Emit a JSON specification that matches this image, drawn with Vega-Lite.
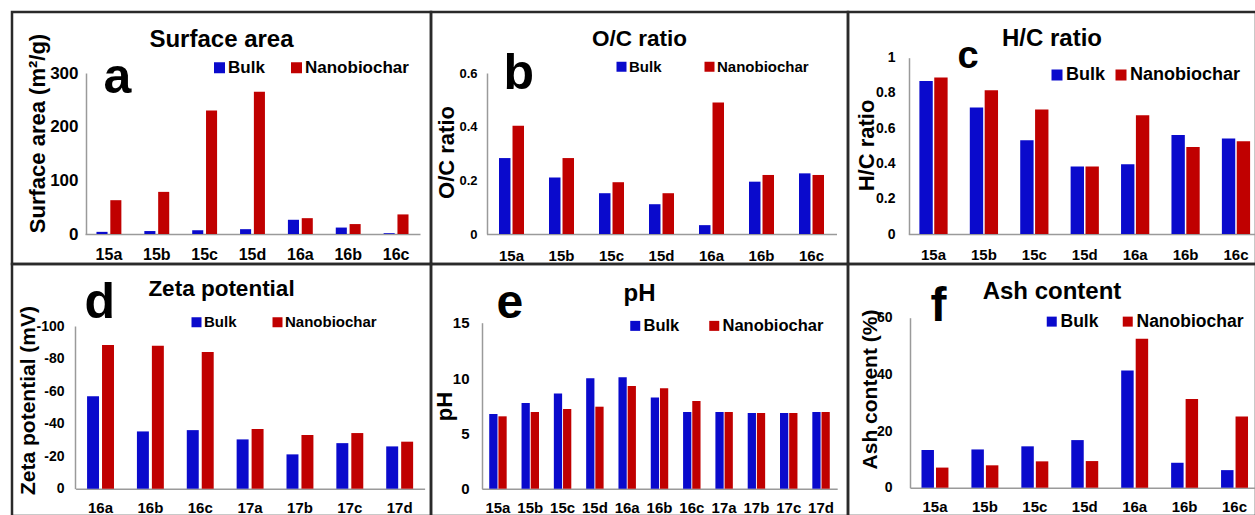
{
  "$schema": "https://vega.github.io/schema/vega-lite/v6.json",
  "background": "white",
  "padding": {"left": 10, "top": 10, "right": 0, "bottom": 0},
  "columns": 3,
  "spacing": 0,
  "bounds": "flush",
  "resolve": {"scale": {"color": "independent", "x": "independent", "y": "independent", "xOffset": "independent"}, "legend": {"color": "independent"}},
  "datasets": {
    "sa": [
      {"s": "15a", "t": "Bulk", "v": 4}, {"s": "15a", "t": "Nanobiochar", "v": 63},
      {"s": "15b", "t": "Bulk", "v": 5.5}, {"s": "15b", "t": "Nanobiochar", "v": 78.5},
      {"s": "15c", "t": "Bulk", "v": 7}, {"s": "15c", "t": "Nanobiochar", "v": 230},
      {"s": "15d", "t": "Bulk", "v": 9}, {"s": "15d", "t": "Nanobiochar", "v": 265},
      {"s": "16a", "t": "Bulk", "v": 26.5}, {"s": "16a", "t": "Nanobiochar", "v": 29.5},
      {"s": "16b", "t": "Bulk", "v": 12}, {"s": "16b", "t": "Nanobiochar", "v": 18.5},
      {"s": "16c", "t": "Bulk", "v": 1.5}, {"s": "16c", "t": "Nanobiochar", "v": 36.5}
    ],
    "oc": [
      {"s": "15a", "t": "Bulk", "v": 0.283}, {"s": "15a", "t": "Nanobiochar", "v": 0.403},
      {"s": "15b", "t": "Bulk", "v": 0.211}, {"s": "15b", "t": "Nanobiochar", "v": 0.283},
      {"s": "15c", "t": "Bulk", "v": 0.152}, {"s": "15c", "t": "Nanobiochar", "v": 0.193},
      {"s": "15d", "t": "Bulk", "v": 0.111}, {"s": "15d", "t": "Nanobiochar", "v": 0.152},
      {"s": "16a", "t": "Bulk", "v": 0.033}, {"s": "16a", "t": "Nanobiochar", "v": 0.49},
      {"s": "16b", "t": "Bulk", "v": 0.195}, {"s": "16b", "t": "Nanobiochar", "v": 0.22},
      {"s": "16c", "t": "Bulk", "v": 0.226}, {"s": "16c", "t": "Nanobiochar", "v": 0.22}
    ],
    "hc": [
      {"s": "15a", "t": "Bulk", "v": 0.868}, {"s": "15a", "t": "Nanobiochar", "v": 0.887},
      {"s": "15b", "t": "Bulk", "v": 0.717}, {"s": "15b", "t": "Nanobiochar", "v": 0.815},
      {"s": "15c", "t": "Bulk", "v": 0.532}, {"s": "15c", "t": "Nanobiochar", "v": 0.706},
      {"s": "15d", "t": "Bulk", "v": 0.383}, {"s": "15d", "t": "Nanobiochar", "v": 0.383},
      {"s": "16a", "t": "Bulk", "v": 0.396}, {"s": "16a", "t": "Nanobiochar", "v": 0.674},
      {"s": "16b", "t": "Bulk", "v": 0.562}, {"s": "16b", "t": "Nanobiochar", "v": 0.494},
      {"s": "16c", "t": "Bulk", "v": 0.542}, {"s": "16c", "t": "Nanobiochar", "v": 0.526}
    ],
    "zp": [
      {"s": "16a", "t": "Bulk", "v": -56.8}, {"s": "16a", "t": "Nanobiochar", "v": -88.3},
      {"s": "16b", "t": "Bulk", "v": -35.2}, {"s": "16b", "t": "Nanobiochar", "v": -87.9},
      {"s": "16c", "t": "Bulk", "v": -36}, {"s": "16c", "t": "Nanobiochar", "v": -84},
      {"s": "17a", "t": "Bulk", "v": -30.3}, {"s": "17a", "t": "Nanobiochar", "v": -36.7},
      {"s": "17b", "t": "Bulk", "v": -21.1}, {"s": "17b", "t": "Nanobiochar", "v": -33},
      {"s": "17c", "t": "Bulk", "v": -28}, {"s": "17c", "t": "Nanobiochar", "v": -34.2},
      {"s": "17d", "t": "Bulk", "v": -26}, {"s": "17d", "t": "Nanobiochar", "v": -28.9}
    ],
    "ph": [
      {"s": "15a", "t": "Bulk", "v": 6.75}, {"s": "15a", "t": "Nanobiochar", "v": 6.54},
      {"s": "15b", "t": "Bulk", "v": 7.74}, {"s": "15b", "t": "Nanobiochar", "v": 6.93},
      {"s": "15c", "t": "Bulk", "v": 8.61}, {"s": "15c", "t": "Nanobiochar", "v": 7.2},
      {"s": "15d", "t": "Bulk", "v": 9.97}, {"s": "15d", "t": "Nanobiochar", "v": 7.41},
      {"s": "16a", "t": "Bulk", "v": 10.06}, {"s": "16a", "t": "Nanobiochar", "v": 9.28},
      {"s": "16b", "t": "Bulk", "v": 8.25}, {"s": "16b", "t": "Nanobiochar", "v": 9.07},
      {"s": "16c", "t": "Bulk", "v": 6.93}, {"s": "16c", "t": "Nanobiochar", "v": 7.92},
      {"s": "17a", "t": "Bulk", "v": 6.93}, {"s": "17a", "t": "Nanobiochar", "v": 6.93},
      {"s": "17b", "t": "Bulk", "v": 6.84}, {"s": "17b", "t": "Nanobiochar", "v": 6.84},
      {"s": "17c", "t": "Bulk", "v": 6.84}, {"s": "17c", "t": "Nanobiochar", "v": 6.84},
      {"s": "17d", "t": "Bulk", "v": 6.93}, {"s": "17d", "t": "Nanobiochar", "v": 6.93}
    ],
    "ash": [
      {"s": "15a", "t": "Bulk", "v": 13.3}, {"s": "15a", "t": "Nanobiochar", "v": 7.1},
      {"s": "15b", "t": "Bulk", "v": 13.5}, {"s": "15b", "t": "Nanobiochar", "v": 7.9},
      {"s": "15c", "t": "Bulk", "v": 14.6}, {"s": "15c", "t": "Nanobiochar", "v": 9.3},
      {"s": "15d", "t": "Bulk", "v": 16.8}, {"s": "15d", "t": "Nanobiochar", "v": 9.4},
      {"s": "16a", "t": "Bulk", "v": 41.4}, {"s": "16a", "t": "Nanobiochar", "v": 52.6},
      {"s": "16b", "t": "Bulk", "v": 8.8}, {"s": "16b", "t": "Nanobiochar", "v": 31.3},
      {"s": "16c", "t": "Bulk", "v": 6.2}, {"s": "16c", "t": "Nanobiochar", "v": 25.1}
    ]
  },
  "concat": [
    {
      "width": 419, "height": 252,
      "data": {"name": "sa"},
      "title": {"text": "Surface area", "fontSize": 24, "offset": -39.8},
      "mark": {"type": "bar"},
      "encoding": {
        "x": {"field": "s", "type": "nominal", "scale": {"domain": ["15a","15b","15c","15d","16a","16b","16c"], "range": [73, 408], "paddingInner": 0.48, "paddingOuter": 0.24},
              "axis": {"offset": -30, "labelFontSize": 16, "labelPadding": 25, "title": "a", "titleX": 91, "titleY": -142, "titleFontSize": 50}},
        "xOffset": {"field": "t", "type": "nominal", "scale": {"paddingInner": 0.2}},
        "y": {"field": "v", "type": "quantitative", "scale": {"domain": [0, 300], "range": [222, 61], "nice": false},
              "axis": {"offset": -74, "values": [0, 100, 200, 300], "labelFontSize": 17, "labelPadding": 8, "title": "Surface area (m²/g)", "titleX": -42, "titleY": 121, "titleFontSize": 22}},
        "color": {"field": "t", "type": "nominal", "scale": {"domain": ["Bulk", "Nanobiochar"], "range": ["#0a0acc", "#c00000"]},
                  "legend": {"legendX": 199, "legendY": 47, "symbolSize": 121, "labelFontSize": 17, "columnPadding": 23}}
      }
    },
    {
      "width": 417, "height": 252,
      "data": {"name": "oc"},
      "title": {"text": "O/C ratio", "fontSize": 22.5, "offset": -38.5},
      "mark": {"type": "bar"},
      "encoding": {
        "x": {"field": "s", "type": "nominal", "scale": {"domain": ["15a","15b","15c","15d","16a","16b","16c"], "range": [55.5, 405.5], "paddingInner": 0.5, "paddingOuter": 0.25},
              "axis": {"offset": -30, "labelFontSize": 15, "labelPadding": 26, "title": "b", "titleX": 72, "titleY": -146, "titleFontSize": 50}},
        "xOffset": {"field": "t", "type": "nominal", "scale": {"paddingInner": 0.15}},
        "y": {"field": "v", "type": "quantitative", "scale": {"domain": [0, 0.6], "range": [222, 61], "nice": false},
              "axis": {"offset": -56, "values": [0, 0.2, 0.4, 0.6], "format": "~g", "labelFontSize": 13, "labelPadding": 10, "title": "O/C ratio", "titleX": -34, "titleY": 140, "titleFontSize": 22}},
        "color": {"field": "t", "type": "nominal", "scale": {"domain": ["Bulk", "Nanobiochar"], "range": ["#0a0acc", "#c00000"]},
                  "legend": {"legendX": 183, "legendY": 47, "symbolSize": 100, "labelFontSize": 15, "columnPadding": 40}}
      }
    },
    {
      "width": 408, "height": 252,
      "data": {"name": "hc"},
      "title": {"text": "H/C ratio", "fontSize": 24, "offset": -38.8},
      "mark": {"type": "bar"},
      "encoding": {
        "x": {"field": "s", "type": "nominal", "scale": {"domain": ["15a","15b","15c","15d","16a","16b","16c"], "range": [60.3, 413.2], "paddingInner": 0.44, "paddingOuter": 0.22},
              "axis": {"offset": -30, "labelFontSize": 15, "labelPadding": 25, "title": "c", "titleX": 109, "titleY": -167, "titleFontSize": 38}},
        "xOffset": {"field": "t", "type": "nominal", "scale": {"paddingInner": 0.1}},
        "y": {"field": "v", "type": "quantitative", "scale": {"domain": [0, 1], "range": [222, 45.7], "nice": false},
              "axis": {"offset": -61, "values": [0, 0.2, 0.4, 0.6, 0.8, 1], "format": "~g", "labelFontSize": 14, "labelPadding": 14, "title": "H/C ratio", "titleX": -36, "titleY": 133, "titleFontSize": 22}},
        "color": {"field": "t", "type": "nominal", "scale": {"domain": ["Bulk", "Nanobiochar"], "range": ["#0a0acc", "#c00000"]},
                  "legend": {"legendX": 200, "legendY": 54, "symbolSize": 121, "labelFontSize": 18, "columnPadding": 6}}
      }
    },
    {
      "width": 419, "height": 252,
      "data": {"name": "zp"},
      "title": {"text": "Zeta potential", "fontSize": 22.5, "offset": -36.5},
      "mark": {"type": "bar"},
      "encoding": {
        "x": {"field": "s", "type": "nominal", "scale": {"domain": ["16a","16b","16c","17a","17b","17c","17d"], "range": [63.6, 412.6], "paddingInner": 0.46, "paddingOuter": 0.23},
              "axis": {"offset": -27.3, "labelFontSize": 15, "labelPadding": 24, "title": "d", "titleX": 72, "titleY": -171, "titleFontSize": 50}},
        "xOffset": {"field": "t", "type": "nominal", "scale": {"paddingInner": 0.2}},
        "y": {"field": "v", "type": "quantitative", "scale": {"domain": [-100, 0], "range": [62, 224.7], "nice": false},
              "axis": {"offset": -63, "values": [0, -20, -40, -60, -80, -100], "labelExpr": "datum.value == 0 ? '0' : '-' + abs(datum.value)", "labelFontSize": 14, "labelPadding": 11, "title": "Zeta potential (mV)", "titleX": -41, "titleY": 136, "titleFontSize": 21}},
        "color": {"field": "t", "type": "nominal", "scale": {"domain": ["Bulk", "Nanobiochar"], "range": ["#0a0acc", "#c00000"]},
                  "legend": {"legendX": 177, "legendY": 50.5, "symbolSize": 100, "labelFontSize": 15, "columnPadding": 33}}
      }
    },
    {
      "width": 417, "height": 252,
      "data": {"name": "ph"},
      "title": {"text": "pH", "fontSize": 24, "offset": -41.8},
      "mark": {"type": "bar"},
      "encoding": {
        "x": {"field": "s", "type": "nominal", "scale": {"domain": ["15a","15b","15c","15d","16a","16b","16c","17a","17b","17c","17d"], "range": [50.8, 406.2], "paddingInner": 0.46, "paddingOuter": 0.23},
              "axis": {"offset": -27.3, "labelFontSize": 15, "labelPadding": 24, "title": "e", "titleX": 65, "titleY": -171, "titleFontSize": 48}},
        "xOffset": {"field": "t", "type": "nominal", "scale": {"paddingInner": 0.1}},
        "y": {"field": "v", "type": "quantitative", "scale": {"domain": [0, 15], "range": [224.7, 58.7], "nice": false},
              "axis": {"offset": -51, "values": [0, 5, 10, 15], "labelFontSize": 15, "labelPadding": 13, "title": "pH", "titleX": -31, "titleY": 142, "titleFontSize": 22}},
        "color": {"field": "t", "type": "nominal", "scale": {"domain": ["Bulk", "Nanobiochar"], "range": ["#0a0acc", "#c00000"]},
                  "legend": {"legendX": 196, "legendY": 53.5, "symbolSize": 100, "labelFontSize": 16.5, "columnPadding": 26}}
      }
    },
    {
      "width": 408, "height": 252,
      "data": {"name": "ash"},
      "title": {"text": "Ash content", "fontSize": 24, "offset": -39.8},
      "mark": {"type": "bar"},
      "encoding": {
        "x": {"field": "s", "type": "nominal", "scale": {"domain": ["15a","15b","15c","15d","16a","16b","16c"], "range": [62, 411.5], "paddingInner": 0.46, "paddingOuter": 0.23},
              "axis": {"offset": -28.3, "labelFontSize": 15, "labelPadding": 24, "title": "f", "titleX": 82, "titleY": -167, "titleFontSize": 48}},
        "xOffset": {"field": "t", "type": "nominal", "scale": {"paddingInner": 0.14}},
        "y": {"field": "v", "type": "quantitative", "scale": {"domain": [0, 60], "range": [223.7, 53.7], "nice": false},
              "axis": {"offset": -62, "values": [0, 20, 40, 60], "labelFontSize": 14, "labelPadding": 18, "title": "Ash content (%)", "titleX": -34, "titleY": 125, "titleFontSize": 21}},
        "color": {"field": "t", "type": "nominal", "scale": {"domain": ["Bulk", "Nanobiochar"], "range": ["#0a0acc", "#c00000"]},
                  "legend": {"legendX": 195, "legendY": 48.5, "symbolSize": 100, "labelFontSize": 17.5, "columnPadding": 20}}
      }
    }
  ],
  "config": {
    "view": {"stroke": "#2a2a2a", "strokeWidth": 2.5},
    "axis": {
      "labelFont": "Liberation Sans", "labelFontWeight": "bold", "labelColor": "black",
      "titleFont": "Liberation Sans", "titleFontWeight": "bold", "titleColor": "black",
      "titleAlign": "center", "titleBaseline": "alphabetic", "titleAngle": 0,
      "domainColor": "#9a9a9a", "domainWidth": 1.5, "ticks": false, "tickSize": 0, "grid": false,
      "labelAngle": 0
    },
    "axisX": {"labelBaseline": "alphabetic", "titleAlign": "left"},
    "axisY": {"titleAngle": -90},
    "legend": {
      "orient": "none", "direction": "horizontal", "title": null, "symbolType": "square",
      "labelFont": "Liberation Sans", "labelFontWeight": "bold", "labelColor": "black",
      "labelOffset": 0, "symbolStrokeWidth": 0, "padding": 0
    },
    "title": {
      "font": "Liberation Sans", "fontWeight": "bold", "color": "black",
      "anchor": "middle", "frame": "group"
    }
  }
}
